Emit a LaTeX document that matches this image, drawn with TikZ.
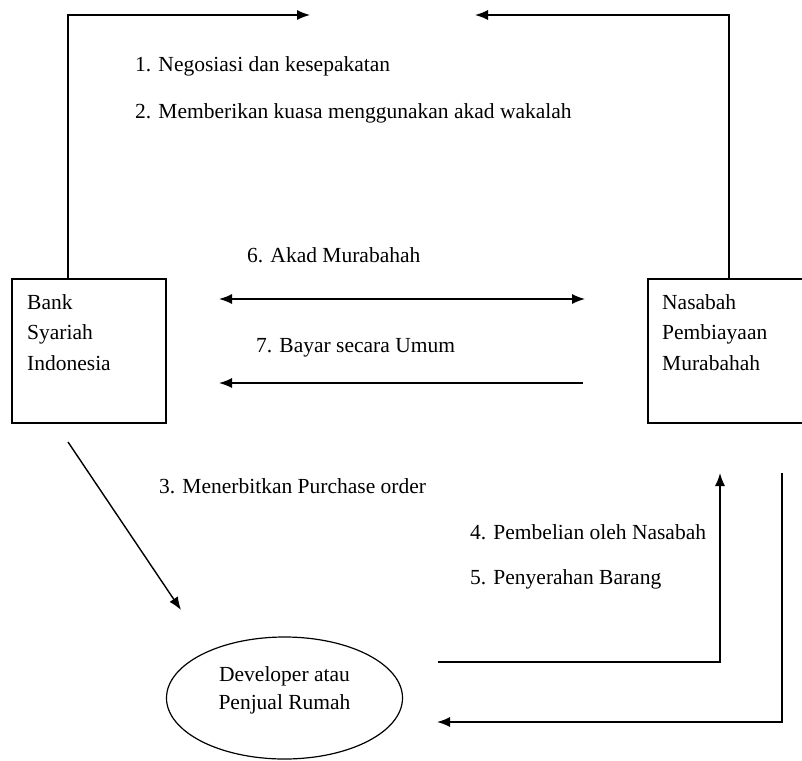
\documentclass[tikz,border=0pt]{standalone}
\usepackage{fontspec}
\setmainfont{Liberation Serif}
\usetikzlibrary{arrows.meta,shapes.geometric}
\begin{document}
\begin{tikzpicture}[x=1pt,y=-1pt,
  lbl/.style={font=\fontsize{21.5}{30}\selectfont, inner sep=0pt, anchor=west},
  boxtxt/.style={font=\fontsize{21.5}{30.5}\selectfont, inner sep=0pt, anchor=north west, align=left},
  conn/.style={line width=1.4pt},
  arr/.style={conn, -{Latex[length=13pt,width=10pt]}},
  darr/.style={conn, {Latex[length=13pt,width=10pt]}-{Latex[length=13pt,width=10pt]}},
  entity/.style={draw, line width=1.2pt, rectangle, inner sep=0pt}]
\useasboundingbox (0,0) rectangle (802,760);
\clip (0,0) rectangle (802,760);
% nodes
\node[entity, minimum width=154pt, minimum height=144pt] (bank) at (89,351) {};
\node[boxtxt] (banktxt) at (27,294) {Bank\\Syariah\\Indonesia};
\node[entity, minimum width=162pt, minimum height=144pt] (nas) at (729,351) {};
\node[boxtxt] (nastxt) at (662,294) {Nasabah\\Pembiayaan\\Murabahah};
\node[draw, ellipse, line width=1.2pt, minimum width=236pt, minimum height=122pt, inner sep=0pt] (dev) at (284.5,698) {};
\node[align=center, inner sep=0pt, font=\fontsize{21.5}{28}\selectfont] (devtxt) at (284.5,690) {Developer atau\\Penjual Rumah};
% labels
\node[lbl] (l1) at (135,66) {1. Negosiasi dan kesepakatan};
\node[lbl] (l2) at (135,113) {2. Memberikan kuasa menggunakan akad wakalah};
\node[lbl] (l6) at (247,255) {6. Akad Murabahah};
\node[lbl] (l7) at (256,348) {7. Bayar secara Umum};
\node[lbl] (l3) at (159,486) {3. Menerbitkan Purchase order};
\node[lbl] (l4) at (470,532) {4. Pembelian oleh Nasabah};
\node[lbl] (l5) at (470,579) {5. Penyerahan Barang};
% free ends
\coordinate (t1) at (310,15);
\coordinate (t2) at (475,15);
\coordinate (a6l) at (219,299);
\coordinate (a6r) at (585,299);
\coordinate (a7l) at (219,383);
\coordinate (a7r) at (583,383);
\coordinate (a3s) at (68,442);
\coordinate (a3e) at (181,610);
\coordinate (a4s) at (438,662);
\coordinate (a4e) at (720,473);
\coordinate (a5s) at (782,473);
\coordinate (a5e) at (437,722);
% connectors
\draw[arr] ([xshift=-21pt]bank.north) |- (t1);
\draw[arr] (nas.north) |- (t2);
\draw[darr] (a6l) -- (a6r);
\draw[arr] (a7r) -- (a7l);
\draw[arr] (a3s) -- (a3e);
\draw[arr] (a4s) -| (a4e);
\draw[arr] (a5s) |- (a5e);
\end{tikzpicture}
\end{document}
